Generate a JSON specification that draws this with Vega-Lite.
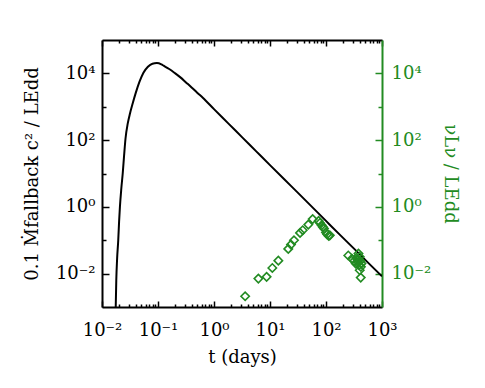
{
  "$schema": "https://vega.github.io/schema/vega-lite/v6.json",
  "width": 280,
  "height": 267,
  "autosize": "none",
  "padding": {"left": 102, "top": 40, "right": 103, "bottom": 81},
  "background": "white",
  "config": {
    "view": {"stroke": null},
    "axis": {
      "labelFont": "DejaVu Serif",
      "titleFont": "DejaVu Serif",
      "labelFontSize": 18,
      "titleFontSize": 18,
      "titleFontWeight": "normal",
      "grid": false,
      "domainWidth": 2,
      "tickWidth": 1.5,
      "domainColor": "black",
      "tickColor": "black",
      "labelColor": "black",
      "titleColor": "black",
      "labelFlush": false,
      "labelOverlap": false
    }
  },
  "datasets": {
    "model": [
      {"t": 0.01758, "y": 0.001},
      {"t": 0.01799, "y": 0.00631},
      {"t": 0.01862, "y": 0.0282},
      {"t": 0.0195, "y": 0.1},
      {"t": 0.02018, "y": 0.355},
      {"t": 0.02089, "y": 1},
      {"t": 0.02213, "y": 3.55},
      {"t": 0.02344, "y": 10},
      {"t": 0.02483, "y": 35.5},
      {"t": 0.0263, "y": 112},
      {"t": 0.02884, "y": 316},
      {"t": 0.03162, "y": 631},
      {"t": 0.03467, "y": 1122},
      {"t": 0.03981, "y": 2512},
      {"t": 0.04677, "y": 5623},
      {"t": 0.05495, "y": 10471},
      {"t": 0.06607, "y": 15849},
      {"t": 0.07943, "y": 19498},
      {"t": 0.0955, "y": 20417},
      {"t": 0.1148, "y": 18621},
      {"t": 0.1259, "y": 16982},
      {"t": 0.1585, "y": 13490},
      {"t": 0.1995, "y": 10233},
      {"t": 0.2512, "y": 7586},
      {"t": 0.3162, "y": 5370},
      {"t": 0.3981, "y": 3802},
      {"t": 0.5012, "y": 2630},
      {"t": 0.631, "y": 1862},
      {"t": 1, "y": 851},
      {"t": 1.778, "y": 324},
      {"t": 3.162, "y": 123},
      {"t": 5.623, "y": 46.8},
      {"t": 10, "y": 17.8},
      {"t": 17.78, "y": 6.81},
      {"t": 31.62, "y": 2.63},
      {"t": 56.23, "y": 1.0},
      {"t": 100, "y": 0.38},
      {"t": 177.8, "y": 0.145},
      {"t": 316.2, "y": 0.0562},
      {"t": 562.3, "y": 0.0214},
      {"t": 1000, "y": 0.00832}
    ],
    "obs": [
      {"t": 3.6, "L": 0.0021},
      {"t": 6.2, "L": 0.0071},
      {"t": 8.7, "L": 0.008},
      {"t": 11.0, "L": 0.0148},
      {"t": 14.1, "L": 0.0245},
      {"t": 21.2, "L": 0.055},
      {"t": 23.7, "L": 0.074},
      {"t": 26.8, "L": 0.1},
      {"t": 34.4, "L": 0.166},
      {"t": 38.4, "L": 0.2},
      {"t": 48.3, "L": 0.295},
      {"t": 57.8, "L": 0.43},
      {"t": 74, "L": 0.38},
      {"t": 78, "L": 0.33},
      {"t": 83.7, "L": 0.28},
      {"t": 88, "L": 0.25},
      {"t": 92, "L": 0.224},
      {"t": 100, "L": 0.17},
      {"t": 105, "L": 0.15},
      {"t": 112, "L": 0.135},
      {"t": 117, "L": 0.14},
      {"t": 250, "L": 0.035},
      {"t": 290, "L": 0.028},
      {"t": 320, "L": 0.024},
      {"t": 340, "L": 0.02},
      {"t": 350, "L": 0.03},
      {"t": 365, "L": 0.026},
      {"t": 375, "L": 0.022},
      {"t": 380, "L": 0.04},
      {"t": 390, "L": 0.018},
      {"t": 400, "L": 0.032},
      {"t": 410, "L": 0.024},
      {"t": 420, "L": 0.016},
      {"t": 430, "L": 0.02},
      {"t": 400, "L": 0.0126},
      {"t": 417, "L": 0.0076}
    ]
  },
  "layer": [
    {
      "data": {"name": "model"},
      "mark": {"type": "line", "color": "black", "strokeWidth": 2, "clip": true, "interpolate": "monotone"},
      "encoding": {
        "x": {
          "field": "t", "type": "quantitative",
          "scale": {"type": "log", "domain": [0.01, 1000]},
          "axis": {
            "orient": "bottom",
            "title": "t (days)",
            "titlePadding": 6,
            "values": [0.01,0.02,0.03,0.04,0.05,0.06,0.07,0.08,0.09,0.1,0.2,0.3,0.4,0.5,0.6,0.7,0.8,0.9,1,2,3,4,5,6,7,8,9,10,20,30,40,50,60,70,80,90,100,200,300,400,500,600,700,800,900,1000],
            "labelExpr": "abs(log(datum.value)/LN10 - round(log(datum.value)/LN10)) < 0.001 ? '10' + replace(replace(replace(replace(replace(replace(round(log(datum.value)/LN10) + '', '-', '⁻'), '0', '⁰'), '1', '¹'), '2', '²'), '3', '³'), '4', '⁴') : ''",
            "tickSize": {"condition": {"test": "abs(log(datum.value)/LN10 - round(log(datum.value)/LN10)) < 0.001", "value": -6}, "value": -3},
            "labelPadding": 20
          }
        },
        "y": {
          "field": "y", "type": "quantitative",
          "scale": {"type": "log", "domain": [0.001, 100000]},
          "axis": {
            "orient": "left",
            "title": "0.1 Ṁfallback c² / LEdd",
            "titlePadding": 14,
            "values": [0.01, 0.1, 1, 10, 100, 1000, 10000],
            "labelExpr": "round(log(datum.value)/LN10) % 2 == 0 ? '10' + replace(replace(replace(replace(replace(round(log(datum.value)/LN10) + '', '-', '⁻'), '0', '⁰'), '2', '²'), '4', '⁴'), '1', '¹') : ''",
            "tickSize": {"condition": {"test": "round(log(datum.value)/LN10) % 2 == 0", "value": -7}, "value": -4},
            "labelPadding": 14,
            "labelBaseline": "middle"
          }
        }
      }
    },
    {
      "data": {"name": "obs"},
      "mark": {"type": "point", "shape": "diamond", "filled": false, "color": "#228B22", "size": 70, "strokeWidth": 1.6, "opacity": 1},
      "encoding": {
        "x": {
          "field": "t", "type": "quantitative",
          "scale": {"type": "log", "domain": [0.01, 1000]},
          "axis": {
            "orient": "top",
            "title": null,
            "labels": false,
            "values": [0.01,0.02,0.03,0.04,0.05,0.06,0.07,0.08,0.09,0.1,0.2,0.3,0.4,0.5,0.6,0.7,0.8,0.9,1,2,3,4,5,6,7,8,9,10,20,30,40,50,60,70,80,90,100,200,300,400,500,600,700,800,900,1000],
            "tickSize": {"condition": {"test": "abs(log(datum.value)/LN10 - round(log(datum.value)/LN10)) < 0.001", "value": -6}, "value": -3}
          }
        },
        "y": {
          "field": "L", "type": "quantitative",
          "scale": {"type": "log", "domain": [0.001, 100000]},
          "axis": {
            "orient": "right",
            "title": "νLν / LEdd",
            "titlePadding": 10,
            "values": [0.01, 0.1, 1, 10, 100, 1000, 10000],
            "labelExpr": "round(log(datum.value)/LN10) % 2 == 0 ? '10' + replace(replace(replace(replace(replace(round(log(datum.value)/LN10) + '', '-', '⁻'), '0', '⁰'), '2', '²'), '4', '⁴'), '1', '¹') : ''",
            "tickSize": {"condition": {"test": "round(log(datum.value)/LN10) % 2 == 0", "value": -7}, "value": -4},
            "labelPadding": 16,
            "labelBaseline": "middle",
            "domainColor": "#228B22",
            "tickColor": "#228B22",
            "labelColor": "#228B22",
            "titleColor": "#228B22"
          }
        }
      }
    }
  ],
  "resolve": {"axis": {"x": "independent", "y": "independent"}}
}
